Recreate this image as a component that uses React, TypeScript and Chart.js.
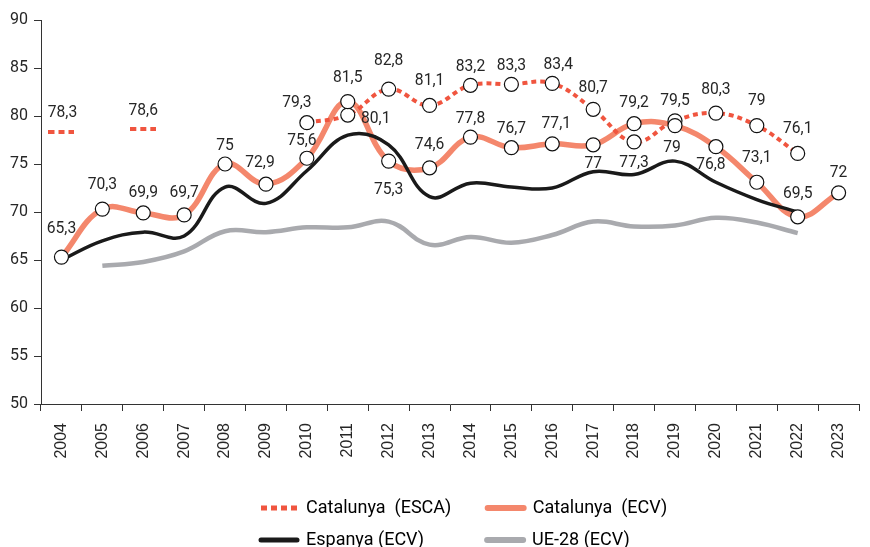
import React, { useEffect, useRef } from 'react';
import { Chart, registerables } from 'chart.js';

Chart.register(...registerables);

const years = ['2004', '2005', '2006', '2007', '2008', '2009', '2010', '2011', '2012', '2013', '2014', '2015', '2016', '2017', '2018', '2019', '2020', '2021', '2022', '2023'];

const catalunyaESCA: (number | null)[] = [78.3, null, 78.6, null, null, null, 79.3, 80.1, 82.8, 81.1, 83.2, 83.3, 83.4, 80.7, 77.3, 79.5, 80.3, 79, 76.1, null];
const catalunyaECV: (number | null)[] = [65.3, 70.3, 69.9, 69.7, 75, 72.9, 75.6, 81.5, 75.3, 74.6, 77.8, 76.7, 77.1, 77, 79.2, 79, 76.8, 73.1, 69.5, 72];
const espanyaECV: (number | null)[] = [65.0, 67.0, 67.9, 67.5, 72.6, 70.9, 74.3, 78.0, 77.0, 71.6, 73.0, 72.6, 72.5, 74.2, 73.9, 75.3, 73.1, 71.3, 70.0, null];
const ue28ECV: (number | null)[] = [null, 64.4, 64.8, 65.9, 68.0, 67.9, 68.4, 68.4, 69.0, 66.6, 67.4, 66.8, 67.6, 69.0, 68.5, 68.6, 69.4, 68.9, 67.8, null];

const legendLabels = ['Catalunya  (ESCA)', 'Catalunya  (ECV)', 'Espanya (ECV)', 'UE-28 (ECV)'];
const yTicks = { min: 50, max: 90, step: 5 };

// label placement (style): [dx, dy] relative to the point
const offsetsECV: [number, number][] = [
  [0, -28], [0, -24], [0, -20], [0, -22], [0, -18], [-6, -21], [-5, -17], [0, -24], [0, 29], [0, -23],
  [0, -18], [0, -19], [4, -20], [0, 19], [0, -21], [-3, 22], [-5, 18], [0, -24], [0, -23], [0, -20],
];
const offsetsESCA: [number, number][] = [
  [1, -20], [0, 0], [0, -19], [0, 0], [0, 0], [0, 0], [-10, -20], [28, 4], [0, -28], [0, -25],
  [0, -19], [0, -19], [6, -19], [0, -22], [0, 21], [0, -20], [0, -23], [0, -25], [0, -25], [0, 0],
];

const RED = '#f0553f';
const SALMON = '#f4876c';
const BLACK = '#1a1a1a';
const GREY = '#a9aaae';
const TEXT = '#262626';

export default function App() {
  const ref = useRef<HTMLCanvasElement>(null);

  useEffect(() => {
    const canvas = ref.current!;
    Chart.defaults.font.family = 'Roboto';

    const dash = document.createElement('canvas');
    dash.width = 26;
    dash.height = 4;
    const dctx = dash.getContext('2d')!;
    dctx.fillStyle = RED;
    [0, 10, 20].forEach((x) => dctx.fillRect(x, 0, 6, 4));

    const isolated = (arr: (number | null)[], i: number) =>
      arr[i] != null && arr[i - 1] == null && arr[i + 1] == null;
    const escaStyles = catalunyaESCA.map((_, i) => (isolated(catalunyaESCA, i) ? dash : 'circle'));

    const valueLabels = {
      id: 'valueLabels',
      afterDatasetsDraw(chart: any) {
        const ctx = chart.ctx;
        ctx.save();
        ctx.font = '17px Roboto';
        ctx.fillStyle = TEXT;
        ctx.textAlign = 'center';
        ctx.textBaseline = 'middle';
        const draw = (dsIndex: number, values: (number | null)[], offsets: [number, number][]) => {
          const meta = chart.getDatasetMeta(dsIndex);
          meta.data.forEach((el: any, i: number) => {
            const v = values[i];
            if (v == null) return;
            const [dx, dy] = offsets[i];
            ctx.save();
            ctx.translate(el.x + dx, el.y + dy);
            ctx.scale(0.92, 1);
            ctx.fillText(String(v).replace('.', ','), 0, 0);
            ctx.restore();
          });
        };
        draw(0, catalunyaESCA, offsetsESCA);
        draw(1, catalunyaECV, offsetsECV);
        ctx.restore();
      },
    };

    const legendPlace = {
      id: 'legendPlace',
      afterLayout(chart: any) {
        const lg = chart.legend;
        if (!lg) return;
        lg.left = 247;
        lg.right = 870;
        lg.top = 485;
        lg.bottom = 547;
      },
    };

    const padTo = (text: string, w: number) => {
      const c = document.createElement('canvas').getContext('2d')!;
      c.font = '18px Roboto';
      let t = text;
      while (c.measureText(t).width < w) t += ' ';
      return t;
    };

    const chart = new Chart(canvas, {
      type: 'line',
      data: {
        labels: years,
        datasets: [
          {
            label: legendLabels[0],
            data: catalunyaESCA,
            borderColor: RED,
            borderWidth: 4,
            borderDash: [5, 4],
            tension: 0.4,
            spanGaps: false,
            pointStyle: escaStyles as any,
            pointRadius: 7,
            pointBackgroundColor: '#ffffff',
            pointBorderColor: '#111111',
            pointBorderWidth: 1.2,
            order: 1,
          },
          {
            label: 'ECV points',
            data: catalunyaECV,
            showLine: false,
            pointRadius: 7,
            pointBackgroundColor: '#ffffff',
            pointBorderColor: '#111111',
            pointBorderWidth: 1.2,
            order: 0,
          },
          {
            label: legendLabels[1],
            data: catalunyaECV,
            borderColor: SALMON,
            borderWidth: 5.5,
            tension: 0.4,
            pointRadius: 0,
            borderCapStyle: 'round',
            order: 3,
          },
          {
            label: legendLabels[2],
            data: espanyaECV,
            borderColor: BLACK,
            borderWidth: 3.5,
            tension: 0.4,
            pointRadius: 0,
            order: 2,
          },
          {
            label: legendLabels[3],
            data: ue28ECV,
            borderColor: GREY,
            borderWidth: 4.5,
            tension: 0.4,
            pointRadius: 0,
            order: 4,
          },
        ],
      },
      options: {
        responsive: false,
        animation: false,
        events: [],
        layout: { padding: { top: 20, right: 1, bottom: 41, left: 0 } },
        plugins: {
          tooltip: { enabled: false },
          legend: {
            position: 'bottom',
            align: 'start',
            labels: {
              usePointStyle: true,
              pointStyleWidth: 36,
              boxHeight: 18,
              padding: 14,
              color: '#222222',
              font: { family: 'Roboto', size: 18 },
              generateLabels: () => {
                const col1 = 165;
                return [
                  { text: padTo(legendLabels[0], col1), strokeStyle: RED, fillStyle: RED, lineWidth: 5, lineDash: [6, 4], lineCap: 'butt', pointStyle: 'line', hidden: false, datasetIndex: 0 },
                  { text: legendLabels[1], strokeStyle: SALMON, fillStyle: SALMON, lineWidth: 6, lineDash: [], lineCap: 'round', pointStyle: 'line', hidden: false, datasetIndex: 2 },
                  { text: padTo(legendLabels[2], col1), strokeStyle: BLACK, fillStyle: BLACK, lineWidth: 5, lineDash: [], lineCap: 'round', pointStyle: 'line', hidden: false, datasetIndex: 3 },
                  { text: legendLabels[3], strokeStyle: GREY, fillStyle: GREY, lineWidth: 6, lineDash: [], lineCap: 'round', pointStyle: 'line', hidden: false, datasetIndex: 4 },
                ] as any;
              },
            },
          },
        },
        scales: {
          x: {
            type: 'category',
            offset: true,
            grid: { offset: true, drawOnChartArea: false, tickLength: 7, color: '#333333', lineWidth: 1 },
            border: { color: '#333333', width: 1 },
            ticks: {
              autoSkip: false,
              minRotation: 90,
              maxRotation: 90,
              padding: 12,
              color: TEXT,
              font: { family: 'Liberation Sans', size: 16 },
            },
            afterFit: (s: any) => {
              s.height = 60;
            },
          },
          y: {
            min: yTicks.min,
            max: yTicks.max,
            ticks: { stepSize: yTicks.step, padding: 6, color: TEXT, font: { family: 'Roboto', size: 16 } },
            grid: { drawOnChartArea: false, tickLength: 7, color: '#333333', lineWidth: 1 },
            border: { color: '#333333', width: 1 },
            afterFit: (s: any) => {
              s.width = 41;
            },
          },
        },
      },
      plugins: [valueLabels, legendPlace],
    } as any);

    return () => chart.destroy();
  }, []);

  return (
    <div style={{ position: 'fixed', left: 0, top: 0, width: 870, height: 547, background: '#ffffff' }}>
      <canvas ref={ref} width={870} height={547} style={{ display: 'block' }} />
    </div>
  );
}
